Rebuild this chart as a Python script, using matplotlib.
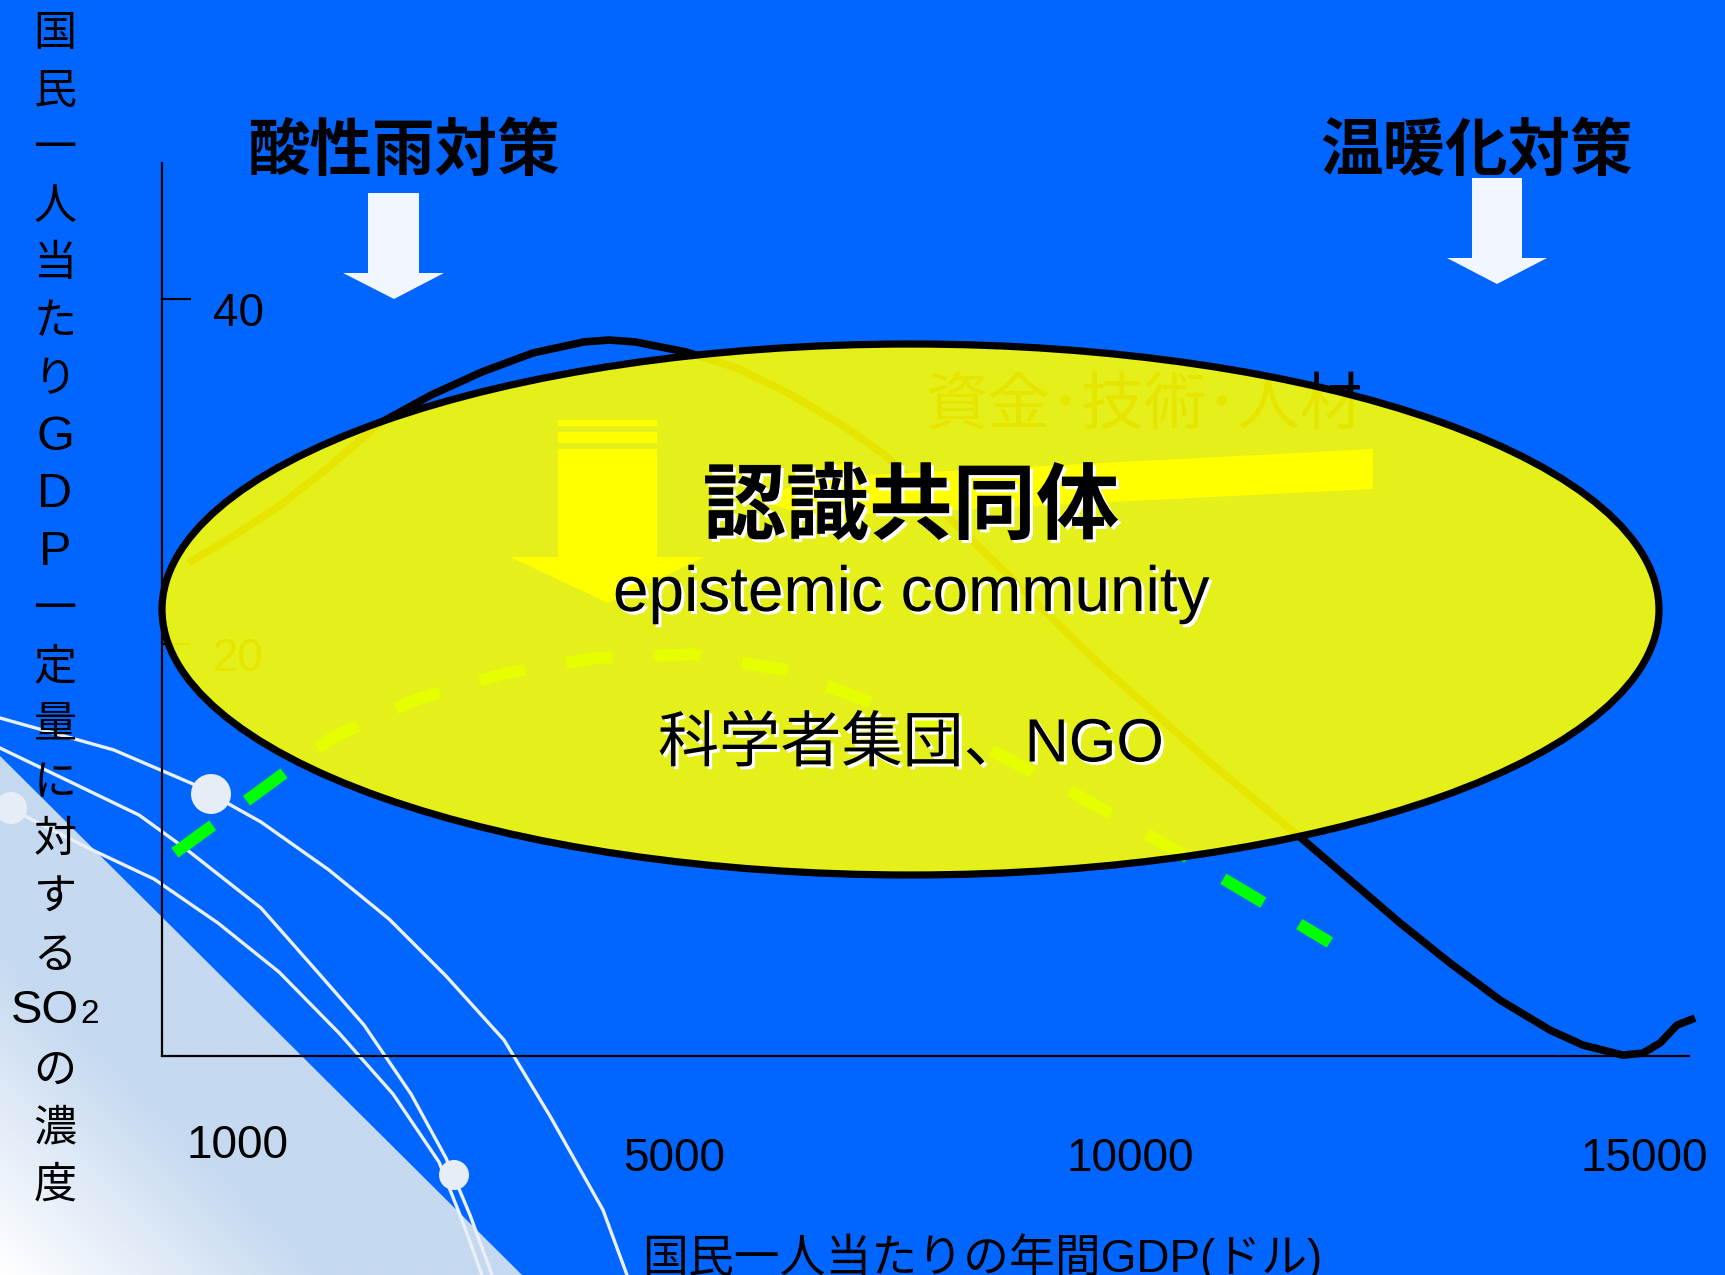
import matplotlib
matplotlib.use('Agg')
import matplotlib.pyplot as plt
import numpy as np
from matplotlib.patches import Ellipse, Polygon, Circle
import matplotlib.patheffects as pe
import matplotlib.transforms as mtransforms

# ---------------- data ----------------
# Kuznets-type curve (black): GDP per capita ($) vs SO2 level
kuznets_gdp = [272, 681, 1215, 1750, 2284, 2819, 3353, 3887, 4422, 4684, 4956, 5490, 6025,
               6559, 7094, 7576, 8540, 9776, 11012, 11924, 12448, 12972, 13496, 14020,
               14544, 14889, 15308, 15518, 15696, 15874, 16063]
kuznets_so2 = [24.70, 26.03, 27.94, 30.26, 32.81, 34.43, 35.77, 36.87, 37.51, 37.62, 37.51,
               36.93, 36.00, 34.55, 32.81, 30.96, 25.74, 19.07, 12.99, 8.81, 6.32, 3.83,
               1.51, -0.64, -2.38, -3.25, -3.83, -3.71, -3.13, -2.09, -1.68]
# lowered curve (green dashed)
green_gdp = [136, 1006, 1792, 2672, 3594, 4558, 5553, 6517, 7439, 8477, 9231, 10069, 10907, 12238]
green_so2 = [7.9, 11.4, 14.6, 16.8, 18.3, 19.2, 19.4, 18.5, 16.6, 14.4, 12.3, 9.8, 7.1, 2.7]

y_ticks = [20, 40]
y_tick_labels = ['20', '40']
x_tick_labels = ['1000', '5000', '10000', '15000']

title_left = '酸性雨対策'
title_right = '温暖化対策'
ylabel_chars = ['国', '民', '一', '人', '当', 'た', 'り', 'G', 'D', 'P', '一', '定', '量',
                'に', '対', 'す', 'る', 'SO2', 'の', '濃', '度']
xlabel = '国民一人当たりの年間GDP(ドル)'
ellipse_title = '認識共同体'
ellipse_sub = 'epistemic community'
ellipse_note = '科学者集団、NGO'
hidden_note = '資金･技術･人材'

# ---------------- layout (pixels) ----------------
W, H = 1725, 1275
x_tick_pos = [786, 5365, 10143, 15528]       # positions of x labels (data units)
x_tick_drop = [65, 74, 74, 74]               # label offsets below axis (pt)

BLUE = '#0066FF'
CJK = 'Noto Sans CJK JP'
LAT = 'Liberation Sans'
MIX = [LAT, CJK]

fig = plt.figure(figsize=(W / 100, H / 100), dpi=100)
fig.patch.set_facecolor(BLUE)

# ---- background decoration ----
bg = fig.add_axes([0, 0, 1, 1], zorder=0)
bg.set_xlim(0, W); bg.set_ylim(H, 0); bg.axis('off')

tri_pts = [(0, 756), (522, 1275), (0, 1275)]
gx = np.linspace(0, 525, 300)
gy = np.linspace(750, 1275, 300)
GX, GY = np.meshgrid(gx, gy)
d = (GX + (1275 - GY)) / np.sqrt(2)
t = np.clip(d / 230, 0, 1)[..., None]
light = np.array([197, 217, 240]) / 255.0
img = np.ones(3) * (1 - t) + light * t
im = bg.imshow(img, extent=(0, 525, 1275, 750), origin='upper', aspect='auto', zorder=1)
tri = Polygon(tri_pts, closed=True, facecolor='none', edgecolor='none')
bg.add_patch(tri)
im.set_clip_path(tri)

deco_lines = [
    [(0, 718), (114, 750), (193, 784), (261, 822), (329, 870), (389, 919), (446, 976),
     (504, 1040), (550, 1116), (603, 1210), (627, 1275)],
    [(0, 748), (139, 815), (186, 849), (261, 908), (314, 968), (364, 1025), (411, 1094),
     (446, 1158), (470, 1215), (492, 1275)],
    [(11, 809), (86, 847), (154, 879), (218, 923), (279, 972), (339, 1033), (393, 1094),
     (439, 1162), (462, 1220), (482, 1275)],
]
for ln in deco_lines:
    xs, ys = zip(*ln)
    bg.plot(xs, ys, color='#EAF0F8', lw=2.4, zorder=2, solid_joinstyle='round')
for (cx, cy, r) in [(211, 794, 20), (454, 1175, 15), (11, 808, 16)]:
    bg.add_patch(Circle((cx, cy), r, facecolor='#E6EDF6', edgecolor='none', zorder=3))

# ---- main data axes ----
ax = fig.add_axes([162 / W, 1 - 1056 / H, (1689 - 162) / W, (1056 - 163) / H], zorder=1)
ax.patch.set_alpha(0)
ax.set_xlim(0, 16000)
ax.set_ylim(-3.88, 47.88)
for s in ['top', 'right']:
    ax.spines[s].set_visible(False)
for s in ['left', 'bottom']:
    ax.spines[s].set_linewidth(1.6)
    ax.spines[s].set_color('black')
ax.set_xticks([])
ax.set_yticks(y_ticks)
ax.tick_params(axis='y', direction='in', length=21, width=1.5, labelleft=False, color='black')

ytrans = mtransforms.blended_transform_factory(ax.transAxes, ax.transData)
for v, lab in zip(y_ticks, y_tick_labels):
    ax.annotate(lab, xy=(0.0498, v), xycoords=ytrans, xytext=(0, -11), textcoords='offset points',
                ha='center', va='center', fontsize=33, family=LAT, color='black')
for pos, lab, drop in zip(x_tick_pos, x_tick_labels, x_tick_drop):
    ax.annotate(lab, xy=(pos, 0), xycoords=ax.get_xaxis_transform(), xytext=(0, -drop),
                textcoords='offset points', ha='center', va='center', fontsize=33,
                family=LAT, color='black', annotation_clip=False)

ax.plot(green_gdp, green_so2, color='#00FF00', lw=8.6, linestyle=(0, (3.9, 3.5)),
        dash_capstyle='butt', clip_on=False, zorder=2)
ax.plot(kuznets_gdp, kuznets_so2, color='black', lw=5.5, clip_on=False, zorder=3,
        solid_joinstyle='round', solid_capstyle='butt')

# ---- overlay ----
ov = fig.add_axes([0, 0, 1, 1], zorder=2)
ov.set_xlim(0, W); ov.set_ylim(H, 0); ov.axis('off')
ov.patch.set_alpha(0)

# items beneath the ellipse
ov.text(1144, 406, hidden_note, ha='center', va='center', fontsize=45, family=CJK,
        color='black', zorder=1)
yellow_down = [(558, 449), (657, 449), (657, 557), (705, 557), (608, 603), (510, 557), (558, 557)]
ov.add_patch(Polygon(yellow_down, closed=True, facecolor='#FFFF00', edgecolor='none', zorder=1))
for (y0, y1) in [(420, 426), (432, 443)]:
    ov.add_patch(Polygon([(558, y0), (657, y0), (657, y1), (558, y1)], closed=True,
                         facecolor='#FFFF00', edgecolor='none', zorder=1))
yellow_left = [(1373, 449), (1373, 489), (850, 515), (850, 531), (760, 500), (850, 460), (850, 476)]
ov.add_patch(Polygon(yellow_left, closed=True, facecolor='#FFFF00', edgecolor='none', zorder=1))

# ellipse
ov.add_patch(Ellipse((910.5, 609.5), 1497, 531, facecolor=(1, 1, 0, 0.9),
                     edgecolor='black', lw=5.2, zorder=2))

shadow = [pe.withSimplePatchShadow(offset=(2.2, -2.2), shadow_rgbFace='white', alpha=1.0)]
ov.text(911, 508, ellipse_title, ha='center', va='center', fontsize=60, family=CJK,
        fontweight='bold', color='black', zorder=3, path_effects=shadow)
ov.text(911, 611, ellipse_sub, ha='center', va='baseline', fontsize=46, family=LAT,
        color='black', zorder=3, path_effects=shadow)
ov.text(911, 746, ellipse_note, ha='center', va='center', fontsize=44, family=MIX,
        color='black', zorder=3, path_effects=shadow)

# titles and white arrows
ov.text(403, 151, title_left, ha='center', va='center', fontsize=45, family=CJK,
        fontweight='bold', color='black', zorder=3)
ov.text(1476, 151, title_right, ha='center', va='center', fontsize=45, family=CJK,
        fontweight='bold', color='black', zorder=3)
arrow_l = [(368, 193), (419, 193), (419, 273), (444, 273), (394, 299), (343, 273), (368, 273)]
arrow_r = [(1472, 178), (1522, 178), (1522, 258), (1547, 258), (1497, 284), (1447, 258), (1472, 258)]
for a in (arrow_l, arrow_r):
    ov.add_patch(Polygon(a, closed=True, facecolor='#F2F6FF', edgecolor='none', zorder=3))

# vertical y label
for i, ch in enumerate(ylabel_chars):
    y = 34 + 57.6 * i
    if ch == 'SO2':
        ov.text(79, 1023, 'SO', ha='right', va='baseline', fontsize=34, family=LAT, color='black')
        ov.text(80, 1023, '2', ha='left', va='baseline', fontsize=24, family=LAT, color='black')
    elif ch in ('G', 'D', 'P'):
        ov.text(55, y, ch, ha='center', va='center', fontsize=35, family=LAT, color='black')
    else:
        ov.text(55, y, ch, ha='center', va='center', fontsize=31, family=CJK, color='black')

# x label (partly beyond the lower edge, as in the original slide)
ov.text(982, 1233, xlabel, ha='center', va='top', fontsize=33, family=MIX, color='black')

fig.savefig('out.png', dpi=100, facecolor=BLUE)
